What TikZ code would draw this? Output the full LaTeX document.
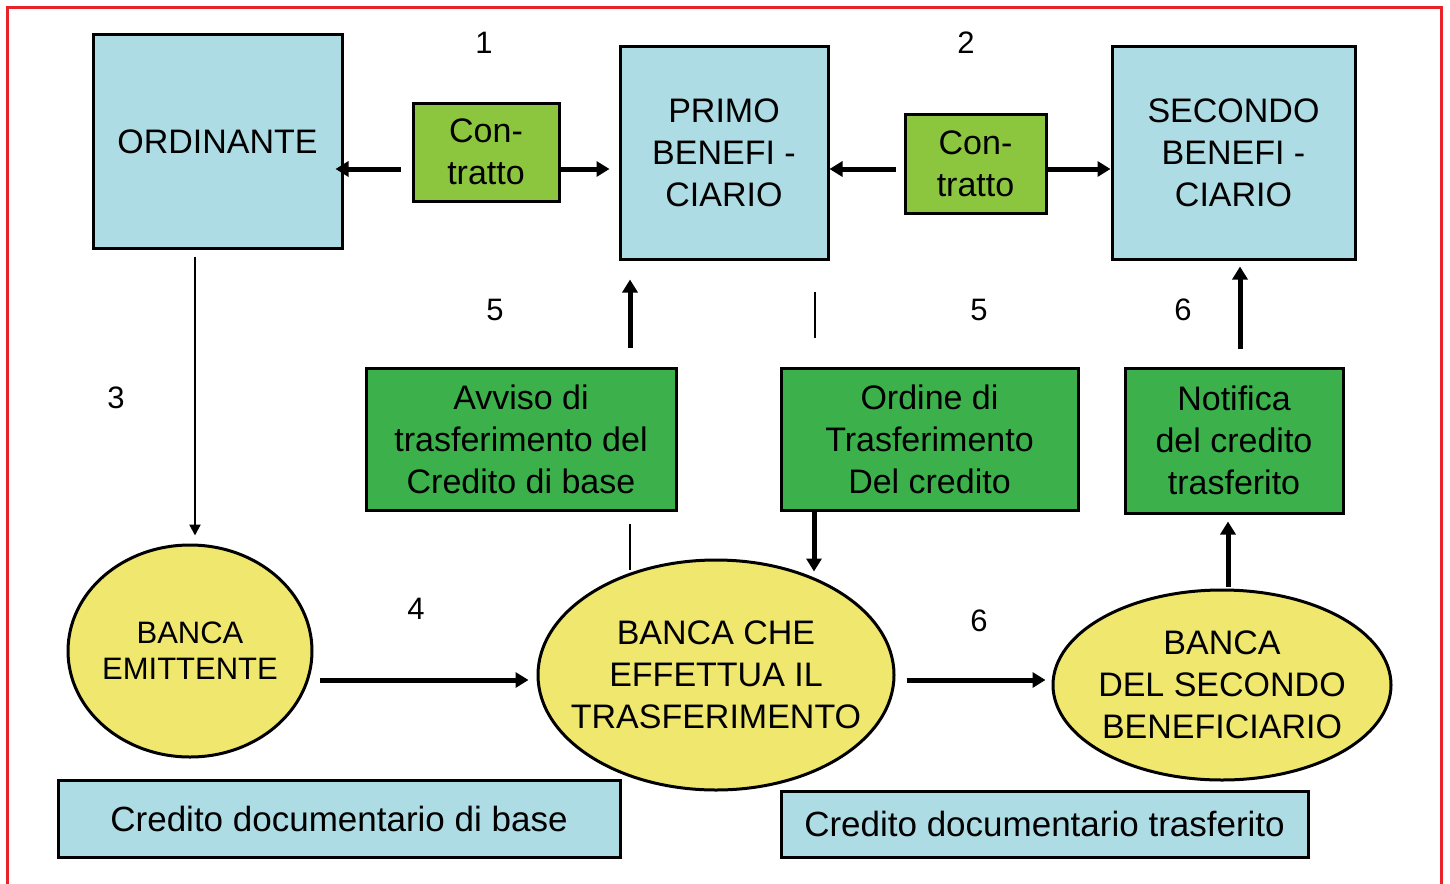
\documentclass[tikz,border=0pt]{standalone}
\usepackage{fontspec}
\setmainfont{Liberation Sans}
\usetikzlibrary{shapes.geometric,arrows.meta}
\definecolor{lblue}{RGB}{173,220,228}
\definecolor{lgreen}{RGB}{140,198,63}
\definecolor{dgreen}{RGB}{60,176,74}
\definecolor{lyellow}{RGB}{240,232,110}
\definecolor{fred}{RGB}{232,35,42}
\begin{document}
\begin{tikzpicture}[x=1pt,y=-1pt,
  basebox/.style={draw=black,line width=3pt,align=center,inner sep=0pt,font=\fontsize{34}{42}\selectfont},
  bluebox/.style={basebox,fill=lblue},
  contrbox/.style={basebox,fill=lgreen},
  greenbox/.style={basebox,fill=dgreen},
  bank/.style={basebox,ellipse,fill=lyellow,inner xsep=-60pt,inner ysep=-30pt},
  num/.style={inner sep=0pt,font=\fontsize{31}{36}\selectfont},
  bigarrow/.style={line width=5pt,-{Triangle[length=13pt,width=15pt]}},
  thinarrow/.style={line width=2.2pt,-{Triangle[length=11pt,width=11pt]}},
  thinline/.style={line width=2.5pt}]
\useasboundingbox (0,0) rectangle (1450,883);
\fill[white] (0,0) rectangle (1450,883);
\draw[fred,line width=3pt] (7,900) -- (7,8) -- (1441,8) -- (1441,900);

% top row
\node[bluebox,minimum width=249pt,minimum height=213pt] (ord) at (217.5,141.5) {ORDINANTE};
\node[bluebox,minimum width=208pt,minimum height=212pt] (pb) at (724,153) {PRIMO\\BENEFI -\\CIARIO};
\node[bluebox,minimum width=243pt,minimum height=212pt] (sb) at (1233.5,153) {SECONDO\\BENEFI -\\CIARIO};
\node[contrbox,minimum width=146pt,minimum height=98pt] (c1) at (486,152) {Con-\\tratto};
\node[contrbox,minimum width=141pt,minimum height=99pt] (c2) at (975.5,163.5) {Con-\\tratto};

% middle row
\node[greenbox,minimum width=310pt,minimum height=142pt] (av) at (521,439) {Avviso di\\trasferimento del\\Credito di base};
\node[greenbox,minimum width=297pt,minimum height=142pt] (od) at (929.5,439) {Ordine di\\Trasferimento\\Del credito};
\node[greenbox,minimum width=218pt,minimum height=145pt] (nt) at (1234,440.5) {Notifica\\del credito\\trasferito};

% banks
\node[bank,minimum width=244pt,minimum height=212pt,font=\fontsize{31}{36}\selectfont] (em) at (190,651) {BANCA\\EMITTENTE};
\node[bank,minimum width=356pt,minimum height=230pt] (bc) at (716,675) {BANCA CHE\\EFFETTUA IL\\TRASFERIMENTO};
\node[bank,minimum width=338pt,minimum height=190pt] (bds) at (1222,685) {BANCA\\DEL SECONDO\\BENEFICIARIO};

% bottom labels
\node[bluebox,minimum width=562pt,minimum height=77pt,font=\fontsize{35}{42}\selectfont] (cb) at (339,818.5) {Credito documentario di base};
\node[bluebox,minimum width=527pt,minimum height=66pt,font=\fontsize{35}{42}\selectfont] (ct) at (1044.5,824) {Credito documentario trasferito};

% numbers
\node[num] (n1) at (484,43) {1};
\node[num] (n2) at (966,43) {2};
\node[num] (n3) at (116,398) {3};
\node[num] (n4) at (416,609) {4};
\node[num] (n5a) at (495,310) {5};
\node[num] (n5b) at (979,310) {5};
\node[num] (n6a) at (1183,310) {6};
\node[num] (n6b) at (979,621) {6};

% connectors
\draw[bigarrow,shorten <=11pt,shorten >=-8pt] ([yshift=-17pt]c1.west) -- ([yshift=-17pt]c1.west -| ord.east);
\draw[bigarrow,shorten >=9pt] ([yshift=-17pt]c1.east) -- ([yshift=-17pt]c1.east -| pb.west);
\draw[bigarrow,shorten <=8pt] ([yshift=-5.5pt]c2.west) -- ([yshift=-5.5pt]c2.west -| pb.east);
\draw[bigarrow] ([yshift=-5.5pt]c2.east) -- ([yshift=-5.5pt]c2.east -| sb.west);

\draw[thinarrow,shorten <=7pt,shorten >=8pt] ([xshift=-22.5pt]ord.south) -- ([xshift=-22.5pt]ord.south |- em.north);
\draw[bigarrow,shorten <=6pt,shorten >=8pt] ([yshift=-5pt]bc.west -| em.east) -- ([yshift=-5pt]bc.west);
\draw[bigarrow,shorten <=11pt,shorten >=6pt] ([yshift=-5pt]bc.east) -- ([yshift=-5pt]bc.east -| bds.west);

\draw[bigarrow,shorten <=19pt,shorten >=19pt] ([xshift=109pt]av.north) -- ([xshift=109pt]av.north |- pb.south);
\draw[thinline] ([xshift=109pt,yshift=-12pt]av.south) -- ++(0,46);
\draw[thinline] ([xshift=91pt,yshift=-31pt]pb.south) -- ++(0,46);
\draw[bigarrow] ([xshift=-115.5pt]od.south) -- ++(0,60);
\draw[bigarrow,shorten <=18pt,shorten >=6pt] ([xshift=6pt]nt.north) -- ([xshift=6pt]nt.north |- sb.south);
\draw[bigarrow,shorten <=2pt,shorten >=7pt] ([xshift=6pt]bds.north) -- ([xshift=6pt]bds.north |- nt.south);
\end{tikzpicture}
\end{document}
